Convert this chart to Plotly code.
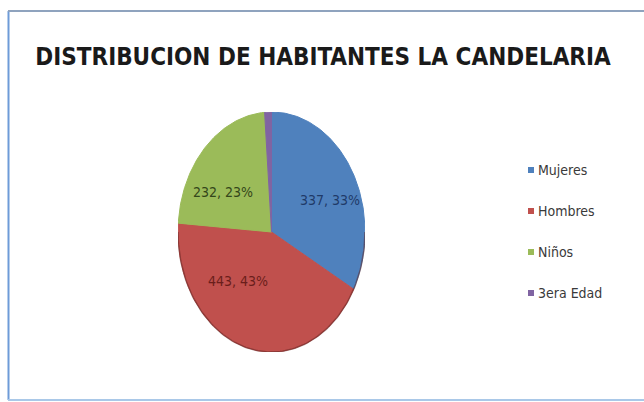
import numpy as np
import plotly.graph_objects as go

# Population of La Candelaria by group
categories = ["Mujeres", "Hombres", "Niños", "3era Edad"]
values = [337, 443, 232, 12]

colors = ["#4F81BD", "#C0504D", "#9BBB59", "#8064A2"]
label_colors = ["#1F3A68", "#6A1E1B", "#34461A", "#222222"]

W, H = 644, 402
FONT = "DejaVu Sans Condensed, Roboto, sans-serif"

total = sum(values)
pcts = [round(v / total * 100) for v in values]
labels = [f"{v}, {p}%" for v, p in zip(values, pcts)]

fig = go.Figure()

# Slices: start at 12 o'clock and run clockwise, drawn on a unit ellipse
start = 0.0
for name, v, c in zip(categories, values, colors):
    sweep = v / total * 2 * np.pi
    t = np.linspace(start, start + sweep, max(4, int(sweep * 60)))
    xs = np.concatenate([[0], np.sin(t), [0]])
    ys = np.concatenate([[0], np.cos(t), [0]])
    fig.add_trace(go.Scatter(
        x=xs, y=ys, mode="lines", fill="toself", fillcolor=c,
        line=dict(color=c, width=1), name=name, showlegend=False,
        hoverinfo="skip"))
    start += sweep

# Soft darker rim along the lower half of the pie
t = np.linspace(np.pi / 2, 3 * np.pi / 2, 120)
fig.add_trace(go.Scatter(x=np.sin(t), y=np.cos(t), mode="lines",
                         line=dict(color="rgba(90,30,28,0.5)", width=1.5),
                         showlegend=False, hoverinfo="skip"))

# Data label placement (axis units inside the unit ellipse)
label_pos = [(0.63, 0.27), (-0.36, -0.41), (-0.52, 0.33), (-0.01, 1.16)]
label_sizes = [14, 14, 14, 11]
for txt, (lx, ly), lc, fs in zip(labels, label_pos, label_colors, label_sizes):
    fig.add_annotation(x=lx, y=ly, xref="x", yref="y", text=txt,
                       showarrow=False, font=dict(family=FONT, size=fs, color=lc))

# Legend drawn as swatches + text
shapes = []
leg_x, leg_y0, leg_gap = 528, 170, 41
for i, (name, c) in enumerate(zip(categories, colors)):
    yc = leg_y0 + i * leg_gap
    shapes.append(dict(type="rect", xref="paper", yref="paper",
                       x0=leg_x / W, x1=(leg_x + 6) / W,
                       y0=1 - (yc + 3) / H, y1=1 - (yc - 3) / H,
                       fillcolor=c, line=dict(width=0)))
    fig.add_annotation(x=(leg_x + 8) / W, y=1 - yc / H, xref="paper", yref="paper",
                       text=name, showarrow=False, xanchor="left", yanchor="middle",
                       font=dict(family=FONT, size=14, color="#3a3a3a"))

# Chart frame
shapes += [
    dict(type="line", xref="paper", yref="paper", x0=8.5 / W, x1=8.5 / W,
         y0=1 - 400 / H, y1=1 - 11 / H, line=dict(color="#6E9BD8", width=2)),
    dict(type="line", xref="paper", yref="paper", x0=8 / W, x1=1,
         y0=1 - 11 / H, y1=1 - 11 / H, line=dict(color="#8FA3BE", width=2)),
    dict(type="line", xref="paper", yref="paper", x0=8 / W, x1=1,
         y0=1 - 400 / H, y1=1 - 400 / H, line=dict(color="#A9C8E8", width=2)),
]

fig.update_layout(
    width=W, height=H,
    margin=dict(l=0, r=0, t=0, b=0),
    paper_bgcolor="white", plot_bgcolor="white",
    shapes=shapes,
    title=dict(text="<b>DISTRIBUCION DE HABITANTES LA CANDELARIA</b>",
               x=323 / W, xanchor="center", y=1 - 57 / H, yanchor="middle",
               font=dict(family=FONT, size=24, color="#1a1a1a")),
    xaxis=dict(domain=[178 / W, 365 / W], range=[-1, 1], visible=False, fixedrange=True),
    yaxis=dict(domain=[1 - 352 / H, 1 - 112 / H], range=[-1, 1], visible=False, fixedrange=True),
    showlegend=False,
)

fig.write_html("out.html")
